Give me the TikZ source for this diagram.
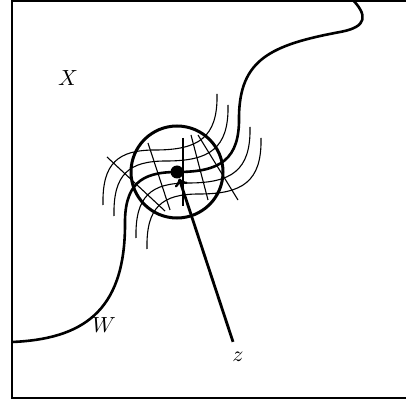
\documentclass[tikz,border=0pt]{standalone}
\begin{document}
\begin{tikzpicture}
    [x=0.5pt,y=-0.5pt,font=\fontsize{11}{13}\selectfont,
    curve/.style={line width=1.3pt},
    leaf/.style={line width=0.55pt},
    chart/.style={line width=1.5pt},
    dot/.style={circle,fill,inner sep=0pt,minimum size=6.5pt},
    pointer/.style={line width=1.4pt,->}]
    \useasboundingbox (0,0) rectangle (406,400);
    %frame, cut off on the right
    \draw[line width=0.6pt] (420,1)--(12,1)--(12,398)--(420,398);
    %labels
    \node (X) at (68,78) {$X$};
    \node (W) at (104,325) {$W$};
    \node[inner sep=5pt] (z) at (238,357) {$z$};
    %the leaf W
    \draw[curve] (12,342) .. controls (82,339) and (124,312) .. (125,227)
        .. controls (124,185) and (140,172) .. (177,172)
        .. controls (220,172) and (240,160) .. (239,116)
        .. controls (240,60) and (270,45) .. (340,32)
        .. controls (368,27) and (368,15) .. (351,-2);
    %nearby leaves
    \foreach \d in {-22,-11,11,22}
        \draw[leaf,shift={(\d,\d)}] (125,227)
        .. controls (124,185) and (140,172) .. (177,172)
        .. controls (220,172) and (240,160) .. (239,116);
    %transversals
    \draw[leaf] (107,157)--(165,211);
    \draw[leaf] (148,143)--(170,210);
    \draw[leaf] (183,138)--(183,206);
    \draw[leaf] (191,135)--(208,200);
    \draw[leaf] (198,135)--(238,200);
    %chart
    \node[dot] (p) at (177,172) {};
    \draw[chart] (p) circle (46);
    \draw[pointer] (z) -- (p);
\end{tikzpicture}
\end{document}
